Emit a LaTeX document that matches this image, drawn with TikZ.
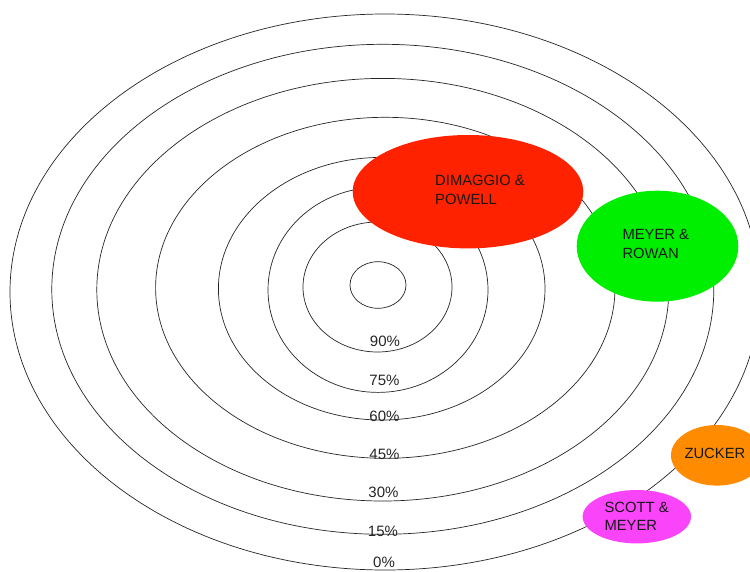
\documentclass[tikz,border=0pt]{standalone}
\usepackage{fontspec}
\setmainfont{Liberation Sans}
\usetikzlibrary{shapes.geometric}
\definecolor{dpred}{RGB}{255,34,0}
\definecolor{mrgreen}{RGB}{0,238,0}
\definecolor{zorange}{RGB}{255,140,0}
\definecolor{smagenta}{RGB}{250,68,250}
\begin{document}
\begin{tikzpicture}[x=1pt,y=-1pt,
  ring/.style={draw=black!85, line width=0.7pt},
  pct/.style={font=\fontsize{15}{18}\selectfont, text=black!85, inner sep=0pt},
  blob/.style={ellipse, inner sep=0pt, draw=none},
  lbl/.style={font=\fontsize{14.8}{18.6}\selectfont, align=left, inner sep=0pt, anchor=west, text=black!90}]
\useasboundingbox (0,0) rectangle (750,571);
\fill[white] (0,0) rectangle (750,571);
% rings
\draw[ring] (385,292) ellipse [x radius=375pt, y radius=278pt];
\draw[ring] (382.8,289.3) ellipse [x radius=331pt, y radius=245pt];
\draw[ring] (382.8,289.7) ellipse [x radius=286pt, y radius=211.3pt];
\draw[ring] (385.3,287.8) ellipse [x radius=229.7pt, y radius=170.5pt];
\draw[ring] (381.7,288.7) ellipse [x radius=163.3pt, y radius=131.3pt];
\draw[ring] (378,289.9) ellipse [x radius=110pt, y radius=102.5pt];
\draw[ring] (377.5,287) ellipse [x radius=74.5pt, y radius=65pt];
\draw[ring] (378,285) ellipse [x radius=28pt, y radius=23.3pt];
% percentage labels
\node[pct] (p90) at (385,341.7) {90\%};
\node[pct] (p75) at (384.5,380.3) {75\%};
\node[pct] (p60) at (384.5,416) {60\%};
\node[pct] (p45) at (384.5,454) {45\%};
\node[pct] (p30) at (383.5,492.5) {30\%};
\node[pct] (p15) at (383,531) {15\%};
\node[pct] (p0) at (384,562.5) {0\%};
% coloured blobs
\node[blob, fill=dpred, minimum width=230.6pt, minimum height=113.4pt] (dp) at (468,191.7) {};
\node[blob, fill=mrgreen, minimum width=161.6pt, minimum height=111pt] (mr) at (657.5,246.2) {};
\node[blob, fill=zorange, minimum width=92pt, minimum height=60.6pt] (zu) at (717,455.3) {};
\node[blob, fill=smagenta, minimum width=108.4pt, minimum height=53.4pt] (sm) at (636.8,516.7) {};
% blob labels
\node[lbl] (dpt) at (435,190.2) {DIMAGGIO \&\\POWELL};
\node[lbl] (mrt) at (622.3,243.8) {MEYER \&\\ROWAN};
\node[lbl] (zut) at (684.3,453.5) {ZUCKER};
\node[lbl] (smt) at (604.3,516.2) {SCOTT \&\\MEYER};
\end{tikzpicture}
\end{document}
